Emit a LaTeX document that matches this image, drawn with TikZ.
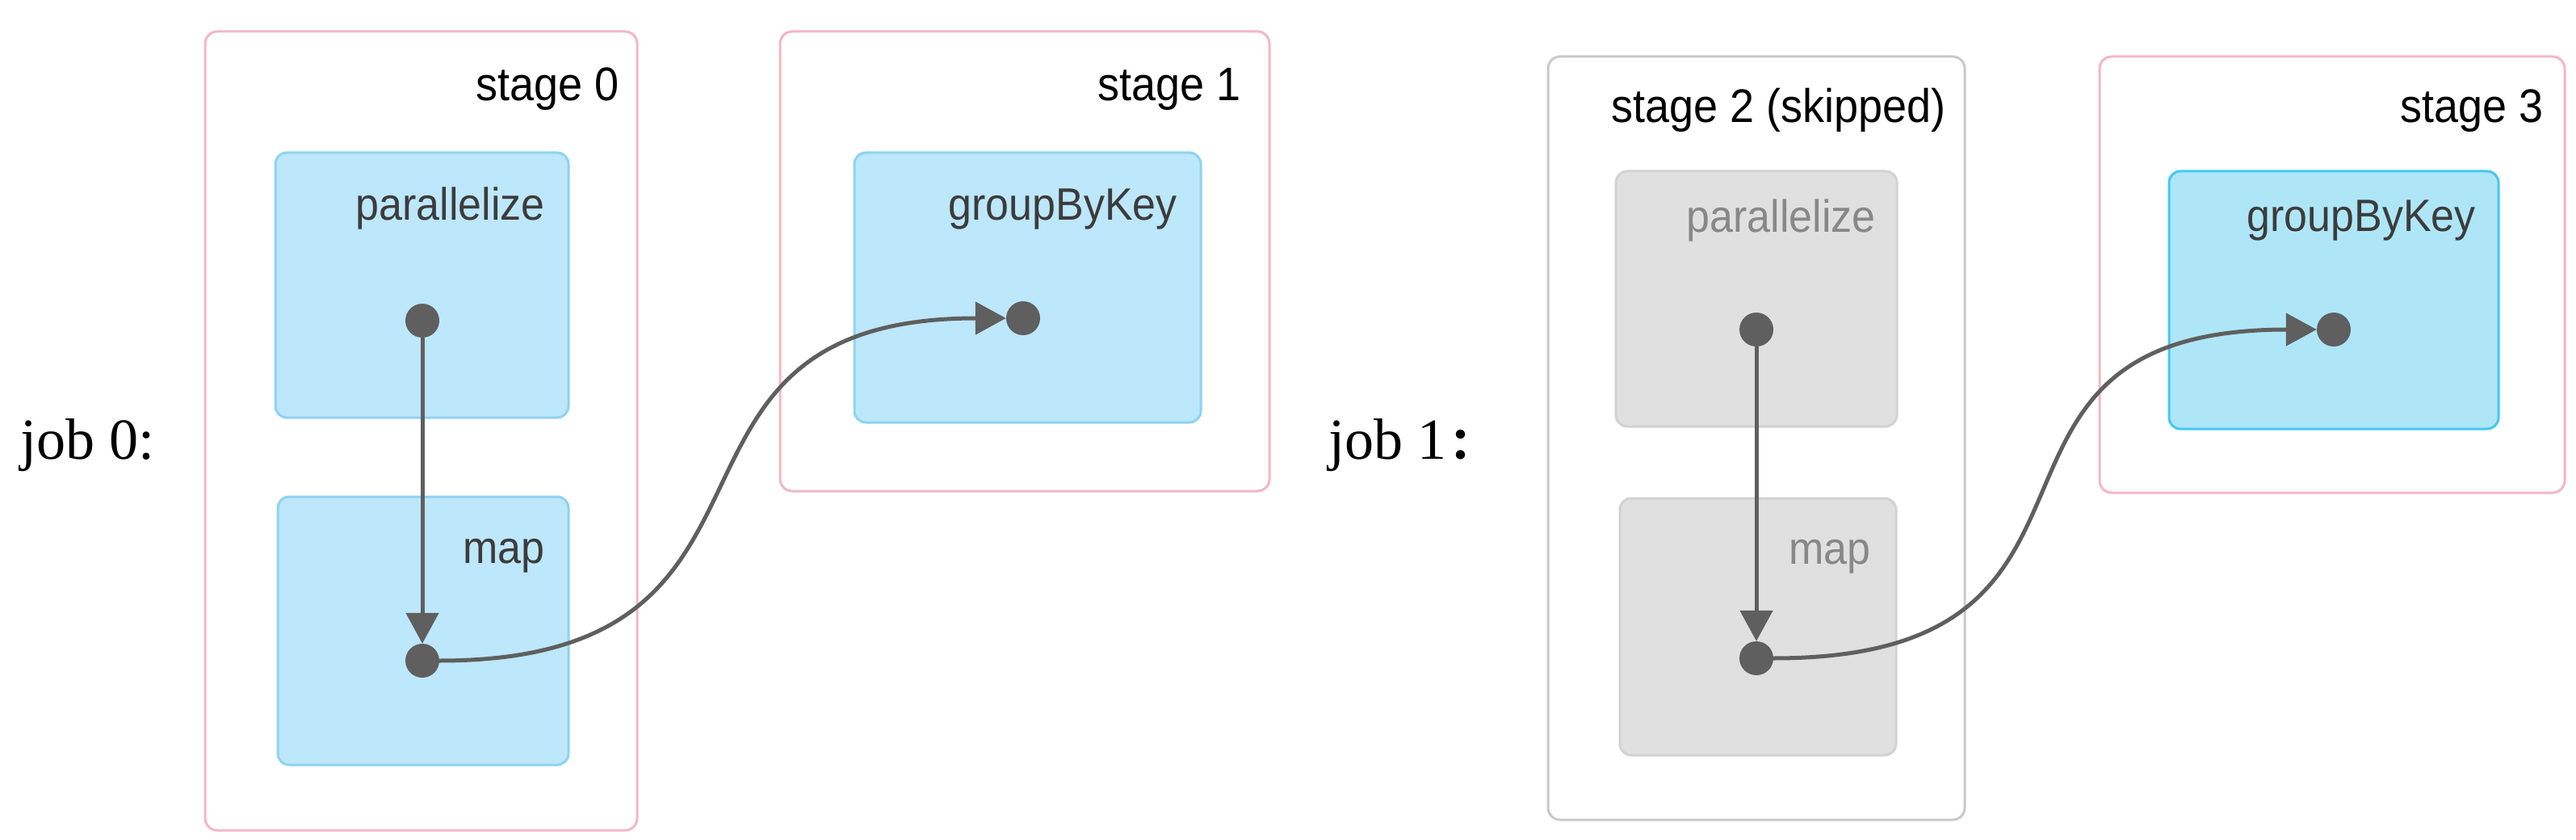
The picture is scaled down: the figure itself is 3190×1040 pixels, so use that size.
\documentclass[tikz,border=0pt]{standalone}
\usepackage{fontspec}
\setmainfont{Liberation Serif}
\setsansfont{Liberation Sans}
\newfontfamily\cjkfont{Noto Sans CJK SC}
\usetikzlibrary{arrows.meta}
\definecolor{stagepink}{HTML}{F3B6C5}
\definecolor{skipgray}{HTML}{C9C9C9}
\definecolor{opfill}{HTML}{BDE7FA}
\definecolor{opdraw}{HTML}{8ED3F2}
\definecolor{opfillB}{HTML}{AEE6F8}
\definecolor{opdrawB}{HTML}{45C8F0}
\definecolor{grayfill}{HTML}{E0E0E0}
\definecolor{graydraw}{HTML}{D2D2D2}
\definecolor{dotcol}{HTML}{5F5F5F}
\definecolor{optext}{HTML}{3C3C3C}
\definecolor{grtext}{HTML}{888888}
\newcommand{\tallt}[1]{\scalebox{1}[1.08]{#1}}
\tikzset{
  stagebox/.style={draw=stagepink, fill=white, line width=3pt, rounded corners=15pt, inner sep=0pt},
  skipbox/.style={stagebox, draw=skipgray},
  opbox/.style={draw=opdraw, fill=opfill, line width=3pt, rounded corners=14pt, inner sep=0pt},
  opboxB/.style={opbox, draw=opdrawB, fill=opfillB},
  grbox/.style={opbox, draw=graydraw, fill=grayfill},
  rdd/.style={circle, fill=dotcol, minimum size=42pt, inner sep=0pt},
  stagelabel/.style={anchor=base east, inner sep=0pt, font=\sffamily\fontsize{54}{60}\selectfont, text=black},
  oplabel/.style={anchor=base east, inner sep=0pt, font=\sffamily\fontsize{52}{60}\selectfont, text=optext},
  grlabel/.style={oplabel, text=grtext},
  joblabel/.style={anchor=base west, inner sep=0pt, font=\fontsize{72}{80}\selectfont, text=black},
  flow/.style={draw=dotcol, line width=5pt, -{Triangle[length=38pt,width=40pt]}}
}
\begin{document}
\begin{tikzpicture}[x=1pt,y=-1pt]
\useasboundingbox[fill=white] (0,0) rectangle (3190,1040);
% job 0
\node[joblabel] (job0) at (25,568) {job 0:};
\node[stagebox, minimum width=535pt, minimum height=989pt] (s0) at (521.5,533.5) {};
\node[stagebox, minimum width=606pt, minimum height=569pt] (s1) at (1269,323.5) {};
\node[opbox, minimum width=363pt, minimum height=328pt] (par0) at (522.5,353) {};
\node[opbox, minimum width=360pt, minimum height=332pt] (map0) at (524,781) {};
\node[opbox, minimum width=429pt, minimum height=334pt] (gbk1) at (1272.5,356) {};
\node[stagelabel] (s0t) at (767,125) {\tallt{stage 0}};
\node[stagelabel] (s1t) at (1537,125) {\tallt{stage 1}};
\node[oplabel] (par0t) at (675,273) {\tallt{parallelize}};
\node[oplabel] (map0t) at (675,697) {\tallt{map}};
\node[oplabel] (gbk1t) at (1458,273) {\tallt{groupByKey}};
\node[rdd] (d0a) at (523,397) {};
\node[rdd] (d0b) at (523,818) {};
\node[rdd] (d1) at (1267,394) {};
\draw[flow] (d0a.south) -- (d0b.north);
\draw[flow] (d0b.east) .. controls +(480,0) and +(-480,0) .. (d1.west);
% job 1
\node[joblabel] (job1) at (1645,568) {job 1\hspace{4pt}{\cjkfont\bfseries\fontsize{54}{60}\selectfont ：}};
\node[skipbox, minimum width=516pt, minimum height=945pt] (s2) at (2175,542.5) {};
\node[stagebox, minimum width=576pt, minimum height=540pt] (s3) at (2888,340) {};
\node[grbox, minimum width=348pt, minimum height=316pt] (par2) at (2175,370) {};
\node[grbox, minimum width=342pt, minimum height=318pt] (map2) at (2177,776) {};
\node[opboxB, minimum width=408pt, minimum height=319pt] (gbk3) at (2890,371.5) {};
\node[stagelabel] (s2t) at (2410,152) {\tallt{stage 2 (skipped)}};
\node[stagelabel] (s3t) at (3150,152) {\tallt{stage 3}};
\node[grlabel] (par2t) at (2323,288) {\tallt{parallelize}};
\node[grlabel] (map2t) at (2317,698) {\tallt{map}};
\node[oplabel] (gbk3t) at (3066,287) {\tallt{groupByKey}};
\node[rdd] (d2a) at (2175,408) {};
\node[rdd] (d2b) at (2175,815) {};
\node[rdd] (d3) at (2890,408) {};
\draw[flow] (d2a.south) -- (d2b.north);
\draw[flow] (d2b.east) .. controls +(480,0) and +(-480,0) .. (d3.west);
\end{tikzpicture}
\end{document}
